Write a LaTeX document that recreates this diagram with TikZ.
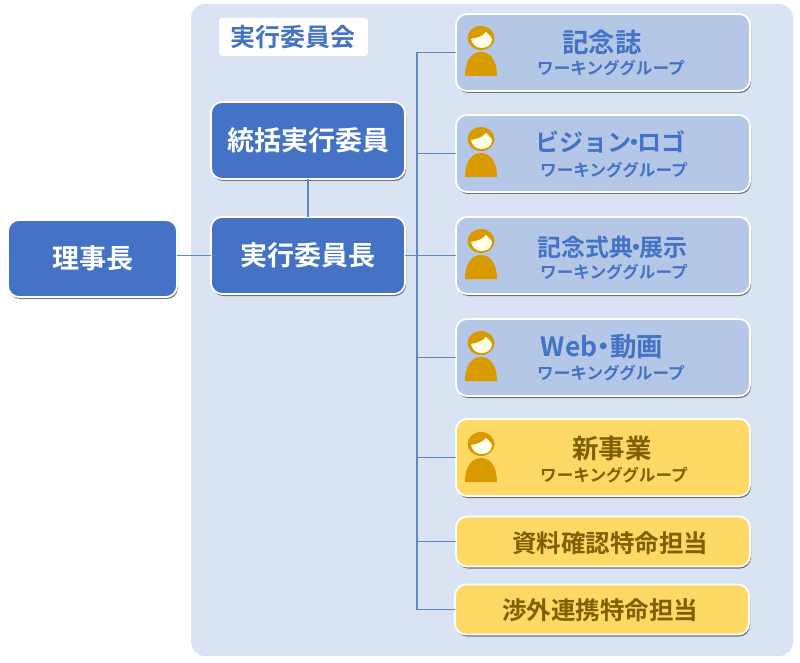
\documentclass[tikz,border=0pt]{standalone}
\usepackage{fontspec}
\setmainfont{Noto Sans CJK JP}[BoldFont={Noto Sans CJK JP Bold}]
\usetikzlibrary{shadows}
\definecolor{panelC}{HTML}{DAE3F3}
\definecolor{darkC}{HTML}{4472C4}
\definecolor{lightC}{HTML}{B4C7E7}
\definecolor{yellowC}{HTML}{FFD966}
\definecolor{brownC}{HTML}{7F6000}
\definecolor{iconC}{HTML}{D99A00}
\definecolor{lineC}{HTML}{5B89C0}
\newcommand{\tdot}[1]{\kern-#1pt・\kern-#1pt}
\tikzset{
  x=1pt,y=-1pt,
  boxbase/.style={rectangle,rounded corners=11pt,draw=white,line width=1.8pt,inner sep=0pt,outer sep=0pt,
    drop shadow={shadow xshift=1pt,shadow yshift=-2pt,fill=black!70,opacity=.75}},
  leadbox/.style={boxbase,fill=darkC,text=white,font=\bfseries\fontsize{27}{27}\selectfont,minimum width=194pt,minimum height=77pt},
  wgblue/.style={boxbase,fill=lightC,minimum width=294pt,minimum height=77pt},
  wgyellow/.style={boxbase,fill=yellowC,minimum width=294pt,minimum height=77pt},
  taskbox/.style={boxbase,fill=yellowC,minimum width=294pt,minimum height=50pt},
  bluetitle/.style={inner sep=0pt,text=darkC,font=\bfseries\fontsize{24}{25}\selectfont},
  bluesub/.style={inner sep=0pt,text=darkC,font=\bfseries\fontsize{16.6}{17}\selectfont},
  browntitle/.style={inner sep=0pt,text=brownC,font=\bfseries\fontsize{24.5}{25}\selectfont},
  brownsub/.style={inner sep=0pt,text=brownC,font=\bfseries\fontsize{16.6}{17}\selectfont},
  conn/.style={draw=lineC,line width=1.5pt},
  person/.pic={
    \fill[iconC] (0,0) ellipse[x radius=13.5,y radius=12];
    \fill[white!90!yellow] (-10,1) .. controls (-5,0) and (1,-1) .. (5,-6)
       .. controls (8,-3) and (11,-1) .. (11,2) .. controls (10,8) and (5,10) .. (0,10)
       .. controls (-5,10) and (-9,6) .. (-10,1) -- cycle;
    \fill[iconC] (-16,38) .. controls (-16,22) and (-9,14) .. (0,14)
       .. controls (9,14) and (16,22) .. (16,38) -- cycle;
  }
}
\begin{document}
\begin{tikzpicture}
\useasboundingbox (0,0) rectangle (800,663);
\fill[white] (0,0) rectangle (800,663);
\node[name=panel,rectangle,rounded corners=14pt,fill=panelC,minimum width=602pt,minimum height=652pt,inner sep=0pt,outer sep=0pt] at (492,330) {};
\node[name=titlebox,rectangle,rounded corners=3pt,fill=white,minimum width=149pt,minimum height=38pt,inner sep=0pt] at (293.5,37) {};
\node[name=titletext,inner sep=0pt,text=darkC,font=\bfseries\fontsize{25}{25}\selectfont] at (293,37) {実行委員会};

\node[leadbox,name=chief] at (308,255.5) {実行委員長};
\node[leadbox,name=general] at (308,140.5) {統括実行委員};
\node[leadbox,name=chair,minimum width=169pt] at (92.5,258.5) {理事長};

\node[wgblue,name=wgA] at (603,52.5) {};
\node[wgblue,name=wgB] at (603,153.5) {};
\node[wgblue,name=wgC] at (603,255.5) {};
\node[wgblue,name=wgD] at (603,357.5) {};
\node[wgyellow,name=wgE] at (603,457.5) {};
\node[taskbox,name=taskA] at (603,541.5) {};
\node[taskbox,name=taskB] at (602,609.5) {};

\coordinate (bus) at (417,255.5);
\draw[conn] (general) -- (chief);
\draw[conn] (chair.east |- chief.west) -- (chief.west);
\draw[conn] (chief.east) -- (bus);
\draw[conn] (bus) |- (wgA.west);
\draw[conn] (bus) |- (wgB.west);
\draw[conn] (bus) -- (wgC.west);
\draw[conn] (bus) |- (wgD.west);
\draw[conn] (bus) |- (wgE.west);
\draw[conn] (bus) |- (taskA.west);
\draw[conn] (bus) |- (taskB.west);

\pic at (481,38) {person};
\pic at (481,139) {person};
\pic at (481,241) {person};
\pic at (481,343) {person};
\pic at (481,444) {person};

\node[bluetitle,name=tA,font=\bfseries\fontsize{26.5}{27}\selectfont] at (602,42) {記念誌};
\node[bluesub,name=sA] at (611,68) {ワーキンググループ};
\node[bluetitle,name=tB] at (610,142) {ビジョン\tdot{9}ロゴ};
\node[bluesub,name=sB] at (614,170) {ワーキンググループ};
\node[bluetitle,name=tC] at (612,247) {記念式典\tdot{9}展示};
\node[bluesub,name=sC] at (614,272) {ワーキンググループ};
\node[bluetitle,name=tD,font=\bfseries\fontsize{26.5}{27}\selectfont] at (602,347) {Web\tdot{7}動画};
\node[bluesub,name=sD] at (611,373) {ワーキンググループ};
\node[browntitle,name=tE,font=\bfseries\fontsize{26.5}{27}\selectfont] at (612,448) {新事業};
\node[brownsub,name=sE] at (614,475) {ワーキンググループ};
\node[browntitle,name=tF] at (610,543) {資料確認特命担当};
\node[browntitle,name=tG] at (600,610) {渉外連携特命担当};
\end{tikzpicture}
\end{document}
